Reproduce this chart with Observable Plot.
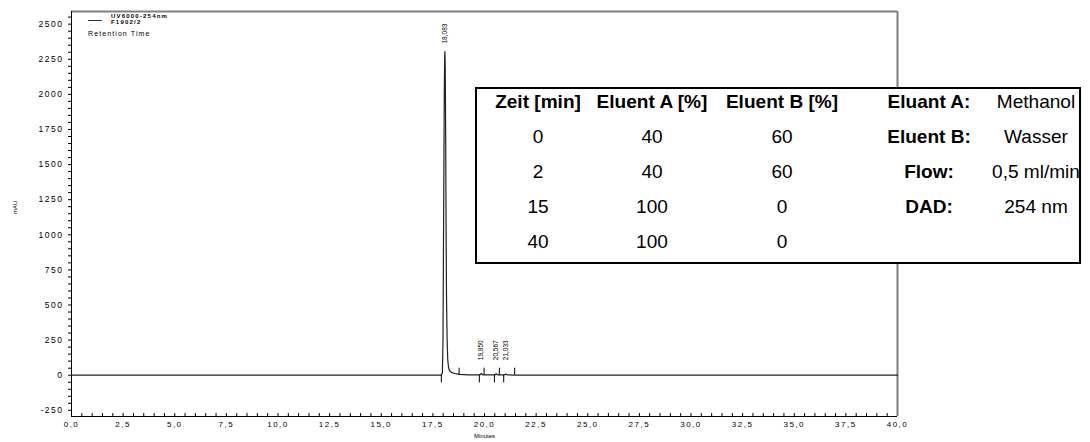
<!DOCTYPE html>
<html><head><meta charset="utf-8">
<script src="https://cdn.jsdelivr.net/npm/d3@7"></script>
<script src="https://cdn.jsdelivr.net/npm/@observablehq/plot@0.6"></script>
<style>
body{margin:0;background:#fff;font-family:"Liberation Sans",Arial,sans-serif;}
#wrap{position:relative;width:1090px;height:442px;overflow:hidden;}
#wrap svg{display:block;}
g[aria-label="x-axis tick label"] text, g[aria-label="y-axis tick label"] text{letter-spacing:1.5px;}
g[aria-label="peak label"] text{letter-spacing:0.8px;}
#legend{position:absolute;left:88px;top:13px;color:#000;}
#legend .row{display:flex;align-items:center;}
#legend .line{width:14px;border-top:1px solid #333;margin-right:9px;margin-top:2px;}
#legend .b{font-weight:bold;font-size:6px;letter-spacing:1.2px;line-height:6px;}
#legend .rt{font-size:7px;letter-spacing:1.1px;margin-top:5px;}
#tbl{position:absolute;left:475px;top:87px;width:602px;height:173px;background:#fff;border:2px solid #000;}
#tbl span{position:absolute;transform:translate(-50%,-50%) scaleX(1.03);white-space:nowrap;font-size:18.5px;color:#000;}
#tbl span.h{font-weight:bold;}
</style></head><body><div id="wrap"></div>
<script>
// ---- data ----
const traceTime   = [0, 5, 10, 15, 17.5, 17.9, 17.96, 17.99, 18.02, 18.05, 18.07, 18.083, 18.1, 18.12, 18.14, 18.16, 18.19, 18.22, 18.26, 18.3, 18.4, 18.55, 18.8, 19.2, 19.78, 19.85, 19.93, 20.5, 20.567, 20.64, 20.96, 21.033, 21.12, 21.5, 22.5, 25, 30, 35, 40];
const traceSignal = [0, 0, 0, 0, 0, 1, 15, 250, 1100, 1950, 2260, 2305, 2180, 1700, 1050, 560, 250, 110, 55, 35, 20, 12, 6, 3, 2, 12, 2, 2, 10, 2, 2, 8, 2, 1, 0, 0, 0, 0, 0];
const peakTimes   = [18.083, 19.850, 20.567, 21.033];
const peakLabels  = ["18,083", "19,850", "20,567", "21,033"];
const peakHeights = [2305, 12, 10, 8];
const peakStarts  = [17.91, 19.75, 20.48, 20.93];
const peakEnds    = [18.77, 19.98, 20.72, 21.46];
const xTicks = [0, 2.5, 5, 7.5, 10, 12.5, 15, 17.5, 20, 22.5, 25, 27.5, 30, 32.5, 35, 37.5, 40];
const yTicks = [-250, 0, 250, 500, 750, 1000, 1250, 1500, 1750, 2000, 2250, 2500];
const legendDetector = "UV6000-254nm";
const legendSample = "F1902/2";
const legendSub = "Retention Time";
const xLabel = "Minutes";
const yLabel = "mAU";
const tableHeaders = ["Zeit [min]", "Eluent A [%]", "Eluent B [%]"];
const gradTime = [0, 2, 15, 40];
const gradA = [40, 40, 100, 100];
const gradB = [60, 60, 0, 0];
const infoLabels = ["Eluant A:", "Eluent B:", "Flow:", "DAD:"];
const infoValues = ["Methanol", "Wasser", "0,5 ml/min", "254 nm"];

// ---- build ----
const yDomain = [-294, 2590];
const xMinor = d3.range(0, 40.001, 0.5);
const yMinor = d3.range(-250, 2551, 50);
const trace = traceTime.map((t, i) => ({t, v: traceSignal[i]}));
const peaks = peakTimes.map((t, i) => ({t, label: peakLabels[i], h: peakHeights[i]}));
const fmtX = d => d.toFixed(1).replace(".", ",");

const chart = Plot.plot({
  width: 1090, height: 442,
  marginLeft: 71, marginRight: 193, marginTop: 11, marginBottom: 26,
  x: {domain: [0, 40]},
  y: {domain: yDomain},
  style: {fontFamily: "Liberation Sans, Arial, sans-serif", background: "white", color: "black"},
  marks: [
    Plot.axisY({ticks: yMinor, tickSize: 3, tickFormat: () => "", label: null}),
    Plot.axisY({ticks: yTicks, tickSize: 0, tickPadding: 8, tickFormat: d => String(d), fontSize: 8.5, label: null}),
    Plot.axisX({ticks: xMinor, tickSize: -3, tickFormat: () => "", label: null}),
    Plot.axisX({ticks: xTicks, tickSize: 0, tickPadding: 5, tickFormat: fmtX, fontSize: 8, label: null}),
    Plot.ruleY([yDomain[1]], {stroke: "#808080", strokeWidth: 2}),
    Plot.ruleX([40], {stroke: "#808080", strokeWidth: 2}),
    Plot.ruleX([0], {stroke: "black"}),
    Plot.ruleY([yDomain[0]], {stroke: "black"}),
    Plot.line(trace, {x: "t", y: "v", stroke: "#222", strokeWidth: 1.2}),
    Plot.ruleX(peakStarts, {x: d => d, y1: 0, y2: -55, stroke: "black"}),
    Plot.ruleX(peakEnds, {x: d => d, y1: 0, y2: 50, stroke: "black"}),
    Plot.text(peaks, {x: "t", y: d => Math.max(d.h, 50), text: "label", rotate: -90, textAnchor: "start", dy: -8, fontSize: 6.5, ariaLabel: "peak label"}),
    Plot.text([xLabel], {frameAnchor: "bottom", dy: 21, fontSize: 6}),
    Plot.text([yLabel], {frameAnchor: "left", dx: -56, rotate: -90, fontSize: 6})
  ]
});
const wrap = document.getElementById("wrap");
wrap.appendChild(chart);

// legend
const leg = document.createElement("div");
leg.id = "legend";
leg.innerHTML = `<div class="row"><div class="line"></div><div><div class="b">${legendDetector}</div><div class="b">${legendSample}</div></div></div><div class="rt">${legendSub}</div>`;
wrap.appendChild(leg);

// table
const tbl = document.createElement("div");
tbl.id = "tbl";
const colX = [61, 175, 305, 452, 559];
const rowY = [13, 48, 83, 118, 153];
function cell(txt, cx, cy, bold) {
  const s = document.createElement("span");
  s.textContent = txt;
  if (bold) s.className = "h";
  s.style.left = cx + "px";
  s.style.top = cy + "px";
  tbl.appendChild(s);
}
tableHeaders.forEach((h, i) => cell(h, colX[i], rowY[0], true));
gradTime.forEach((v, r) => {
  cell(String(v), colX[0], rowY[r + 1]);
  cell(String(gradA[r]), colX[1], rowY[r + 1]);
  cell(String(gradB[r]), colX[2], rowY[r + 1]);
});
infoLabels.forEach((l, r) => {
  cell(l, colX[3], rowY[r], true);
  cell(infoValues[r], colX[4], rowY[r]);
});
wrap.appendChild(tbl);
</script></body></html>
